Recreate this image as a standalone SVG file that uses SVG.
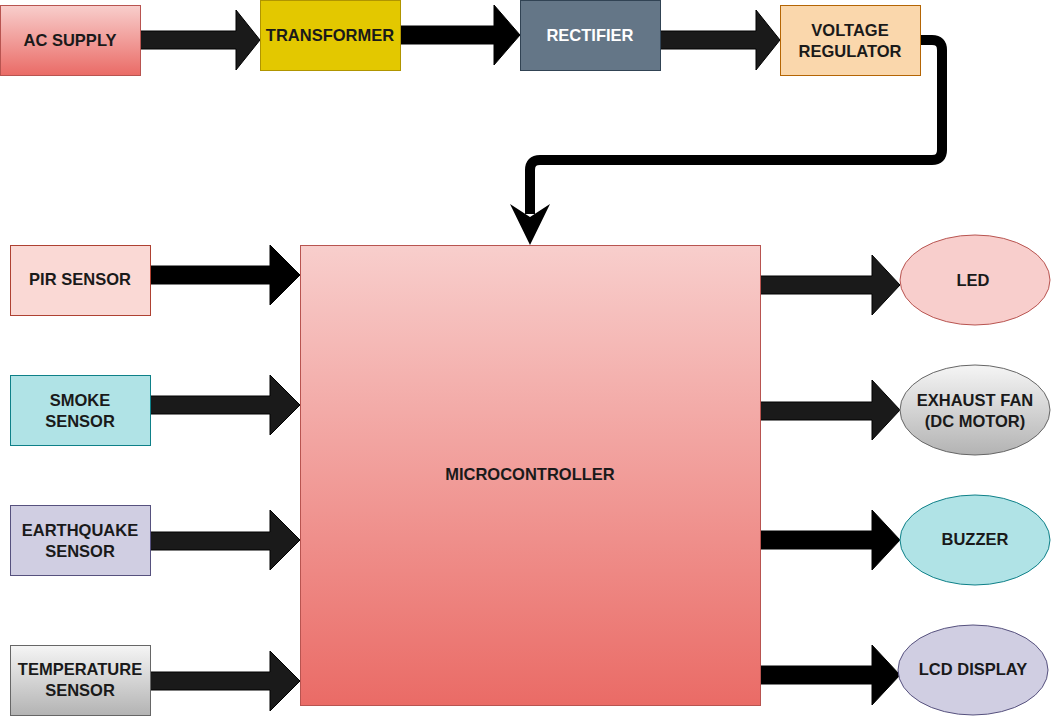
<svg xmlns="http://www.w3.org/2000/svg" width="1052" height="717" viewBox="0 0 1052 717">
<defs>
<linearGradient id="gRed" x1="0" y1="0" x2="0" y2="1"><stop offset="0" stop-color="#f8cecc"/><stop offset="1" stop-color="#ea6b66"/></linearGradient>
<linearGradient id="gGray" x1="0" y1="0" x2="0" y2="1"><stop offset="0" stop-color="#f5f5f5"/><stop offset="1" stop-color="#b3b3b3"/></linearGradient>
</defs>
<style>
text{font-family:"Liberation Sans",Arial,sans-serif;font-weight:bold;font-size:16.5px;fill:#1a1a1a;text-anchor:middle;dominant-baseline:central}
.arr{stroke:#000;stroke-width:1}
.dk{fill:#1a1a1a}
.bk{fill:#000}
</style>
<rect width="1052" height="717" fill="#fff"/>
<g id="connectors">
<polygon class="arr dk" points="140,31 236,31 236,10 260,40 236,70 236,49 140,49"/>
<polygon class="arr bk" points="400,26 494,26 494,5 520,35 494,65 494,44 400,44"/>
<polygon class="arr dk" points="660,31 756,31 756,10 780,40 756,70 756,49 660,49"/>
<path d="M920 40 L932 40 Q942 40 942 50 L942 150 Q942 160 932 160 L540 160 Q530 160 530 170 L530 214" fill="none" stroke="#000" stroke-width="10"/>
<polygon fill="#000" points="510,204 530,245 550,204 530,217"/>
<polygon class="arr bk" points="150,266 270,266 270,245 300,275 270,305 270,284 150,284"/>
<polygon class="arr dk" points="150,396 270,396 270,375 300,405 270,435 270,414 150,414"/>
<polygon class="arr dk" points="150,532 270,532 270,510 300,540 270,570 270,550 150,550"/>
<polygon class="arr dk" points="150,672 270,672 270,651 300,681 270,711 270,690 150,690"/>
<polygon class="arr dk" points="760,276 872,276 872,255 900,285 872,315 872,294 760,294"/>
<polygon class="arr dk" points="760,402 872,402 872,380 900,410 872,440 872,420 760,420"/>
<polygon class="arr bk" points="760,531 872,531 872,510 900,540 872,570 872,549 760,549"/>
<polygon class="arr bk" points="760,666 872,666 872,645 900,675 872,705 872,684 760,684"/>
</g>
<g id="ac-supply"><rect x="0.5" y="5.5" width="140" height="70" fill="url(#gRed)" stroke="#b85450"/><text x="70" y="40">AC SUPPLY</text></g>
<g id="transformer"><rect x="260.5" y="0.5" width="140" height="70" fill="#e3c800" stroke="#b09500"/><text x="330" y="35">TRANSFORMER</text></g>
<g id="rectifier"><rect x="520.5" y="0.5" width="140" height="70" fill="#647687" stroke="#314354"/><text x="590" y="35" style="fill:#fff">RECTIFIER</text></g>
<g id="voltage-regulator"><rect x="780.5" y="5.5" width="140" height="70" fill="#fad7ac" stroke="#b46504"/><text x="850" y="29.5">VOLTAGE</text><text x="850" y="50.5">REGULATOR</text></g>
<g id="microcontroller"><rect x="300.5" y="245.5" width="460" height="460" fill="url(#gRed)" stroke="#b85450"/><text x="530" y="474">MICROCONTROLLER</text></g>
<g id="pir-sensor"><rect x="10.5" y="245.5" width="140" height="70" fill="#fad9d5" stroke="#ae4132"/><text x="80" y="279">PIR SENSOR</text></g>
<g id="smoke-sensor"><rect x="10.5" y="375.5" width="140" height="70" fill="#b0e3e6" stroke="#0e8088"/><text x="80" y="399.5">SMOKE</text><text x="80" y="420.5">SENSOR</text></g>
<g id="earthquake-sensor"><rect x="10.5" y="505.5" width="140" height="70" fill="#d0cee2" stroke="#56517e"/><text x="80" y="530">EARTHQUAKE</text><text x="80" y="551">SENSOR</text></g>
<g id="temperature-sensor"><rect x="10.5" y="645.5" width="140" height="70" fill="url(#gGray)" stroke="#666666"/><text x="80" y="669">TEMPERATURE</text><text x="80" y="690">SENSOR</text></g>
<g id="led"><ellipse cx="975" cy="280" rx="75" ry="45" fill="#f8cecc" stroke="#b85450"/><text x="973" y="280">LED</text></g>
<g id="exhaust-fan"><ellipse cx="975" cy="410" rx="75" ry="45" fill="url(#gGray)" stroke="#666666"/><text x="975" y="400">EXHAUST FAN</text><text x="975" y="421">(DC MOTOR)</text></g>
<g id="buzzer"><ellipse cx="975" cy="540" rx="75" ry="45" fill="#b0e3e6" stroke="#0e8088"/><text x="975" y="539">BUZZER</text></g>
<g id="lcd-display"><ellipse cx="973" cy="670" rx="75" ry="45" fill="#d0cee2" stroke="#56517e"/><text x="973" y="669">LCD DISPLAY</text></g>
</svg>
